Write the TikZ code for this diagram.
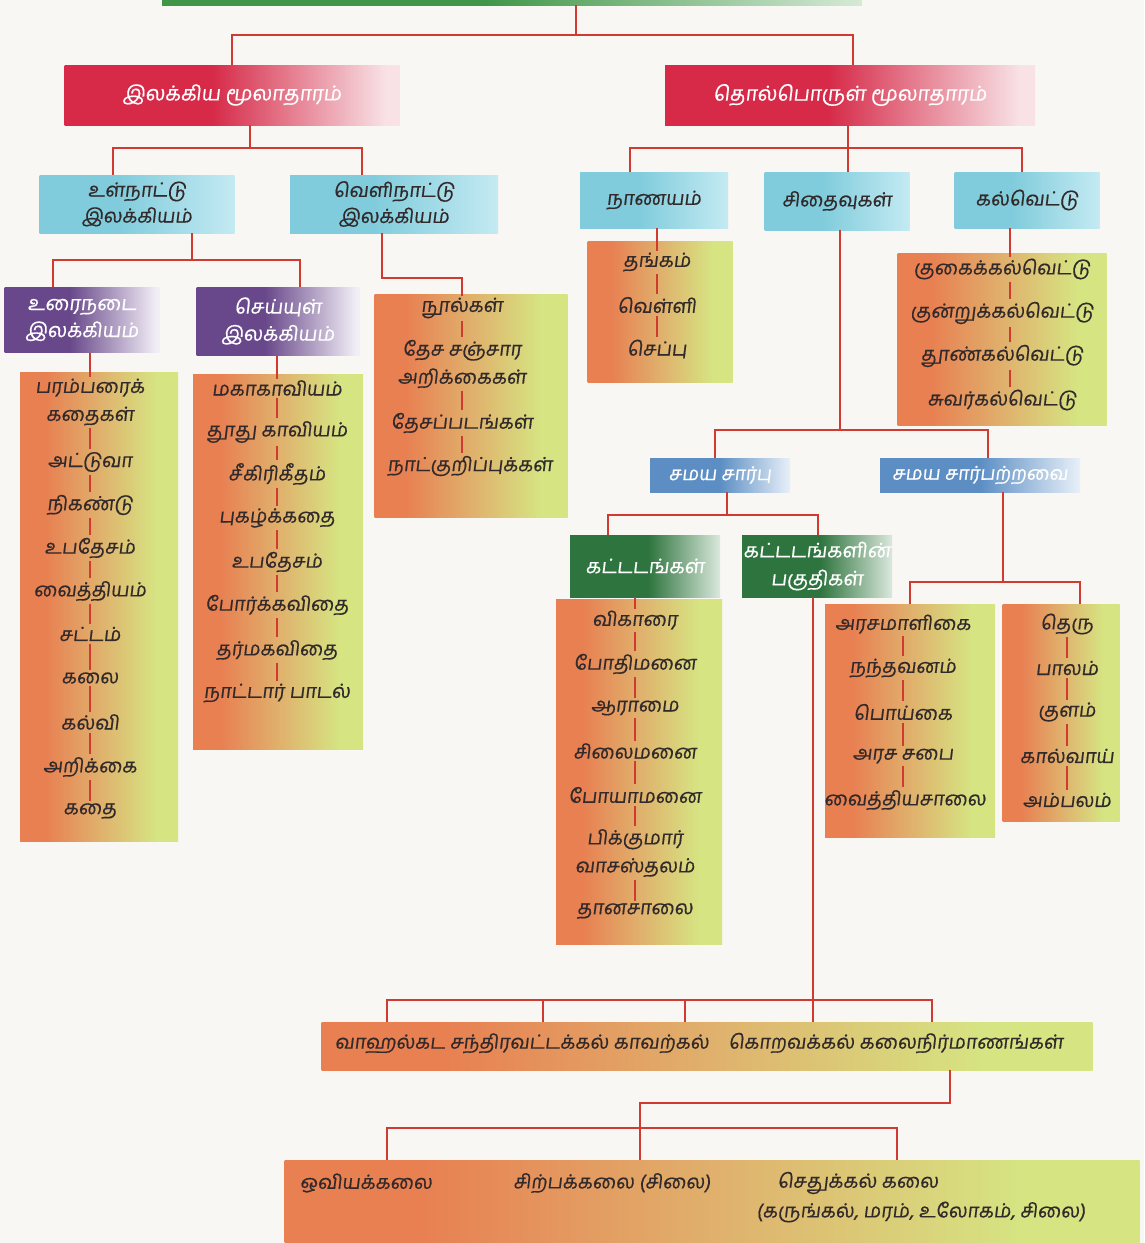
\documentclass[tikz,border=0pt]{standalone}
\usepackage{fontspec}
\newfontfamily\tam[Script=Tamil,FakeSlant=0.12,FakeBold=0.5]{Hind Madurai}
\usetikzlibrary{calc}
\definecolor{paper}{RGB}{248,247,243}
\definecolor{linkred}{RGB}{208,58,48}
\definecolor{lor}{RGB}{232,128,82}
\definecolor{lmid}{RGB}{224,176,108}
\definecolor{lyg}{RGB}{214,228,130}
\definecolor{hred}{RGB}{214,42,72}
\definecolor{hredf}{RGB}{248,226,230}
\definecolor{hcyan}{RGB}{128,204,220}
\definecolor{hcyanf}{RGB}{196,234,242}
\definecolor{hpurp}{RGB}{104,72,138}
\definecolor{hpurpf}{RGB}{242,238,246}
\definecolor{hgreen}{RGB}{46,116,62}
\definecolor{hgreenf}{RGB}{218,232,220}
\definecolor{hblue}{RGB}{92,142,196}
\definecolor{hbluef}{RGB}{232,240,248}
\definecolor{topgreen}{RGB}{64,150,72}
\definecolor{topgreenf}{RGB}{214,234,214}
\definecolor{txt}{RGB}{50,42,42}
\pgfdeclarehorizontalshading{fadered}{100bp}{color(0bp)=(hred); color(25bp)=(hred); color(47bp)=(hred); color(73bp)=(hredf); color(100bp)=(hredf)}
\pgfdeclarehorizontalshading{fadecyan}{100bp}{color(0bp)=(hcyan); color(25bp)=(hcyan); color(45bp)=(hcyan); color(75bp)=(hcyanf); color(100bp)=(hcyanf)}
\pgfdeclarehorizontalshading{fadepurp}{100bp}{color(0bp)=(hpurp); color(25bp)=(hpurp); color(46bp)=(hpurp); color(74bp)=(hpurpf); color(100bp)=(hpurpf)}
\pgfdeclarehorizontalshading{fadegreen}{100bp}{color(0bp)=(hgreen); color(25bp)=(hgreen); color(51bp)=(hgreen); color(75bp)=(hgreenf); color(100bp)=(hgreenf)}
\pgfdeclarehorizontalshading{fadeblue}{100bp}{color(0bp)=(hblue); color(25bp)=(hblue); color(50bp)=(hblue); color(75bp)=(hbluef); color(100bp)=(hbluef)}
\pgfdeclarehorizontalshading{fadetop}{100bp}{color(0bp)=(topgreen); color(25bp)=(topgreen); color(48bp)=(topgreen); color(75bp)=(topgreenf); color(100bp)=(topgreenf)}
\pgfdeclarehorizontalshading{listshade}{100bp}{color(0bp)=(lor); color(25bp)=(lor); color(33bp)=(lor); color(50bp)=(lmid); color(68bp)=(lyg); color(75bp)=(lyg); color(100bp)=(lyg)}
\tikzset{
  base/.style={draw=none, inner sep=0pt, align=center},
  hdrtop/.style={base, shade, shading=fadetop},
  hdrred/.style={base, shade, shading=fadered, text=white, font=\tam\fontsize{20.5}{25}\selectfont},
  hdrcyan/.style={base, shade, shading=fadecyan, text=txt, font=\tam\fontsize{19.5}{26}\selectfont},
  hdrpurp/.style={base, shade, shading=fadepurp, text=white, font=\tam\fontsize{20}{27}\selectfont},
  hdrgreen/.style={base, shade, shading=fadegreen, text=white, font=\tam\fontsize{20}{28}\selectfont},
  hdrblue/.style={base, shade, shading=fadeblue, text=white, font=\tam\fontsize{19}{22}\selectfont},
  listbox/.style={base, shade, shading=listshade},
  item/.style={inner sep=1.5pt, align=center, text=txt, font=\tam\fontsize{19.5}{28}\selectfont},
  small/.style={inner sep=1.5pt, align=center, text=txt, font=\tam\fontsize{19.5}{28}\selectfont},
  conn/.style={draw=linkred, line width=2pt},
  ilink/.style={draw=linkred, line width=2.2pt, shorten <=1pt, shorten >=1pt}
}
\begin{document}
\begin{tikzpicture}[x=1pt,y=-1pt]
\useasboundingbox (0,0) rectangle (1144,1243);
\fill[paper] (0,0) rectangle (1144,1243);

% ---------- header boxes ----------
\node[hdrtop, minimum width=700pt, minimum height=30pt] (top) at (512,-10) {};
\node[hdrred, minimum width=335pt, minimum height=60pt] (lit) at (232,95) {இலக்கிய மூலாதாரம்};
\node[hdrred, minimum width=370pt, minimum height=60pt] (arch) at (850,95) {தொல்பொருள் மூலாதாரம்};

\node[hdrcyan, minimum width=195pt, minimum height=58pt] (ulnadu) at (137,204) {உள்நாட்டு\\இலக்கியம்};
\node[hdrcyan, minimum width=208pt, minimum height=58pt] (velinadu) at (394,204) {வெளிநாட்டு\\இலக்கியம்};
\node[hdrpurp, minimum width=155pt, minimum height=65pt] (urai) at (82,320) {உரைநடை\\இலக்கியம்};
\node[hdrpurp, minimum width=163pt, minimum height=68pt] (seyyul) at (278,321) {செய்யுள்\\இலக்கியம்};

\node[hdrcyan, minimum width=148pt, minimum height=56pt] (nanayam) at (654,200) {நாணயம்};
\node[hdrcyan, minimum width=145pt, minimum height=58pt] (sithaivu) at (837,201) {சிதைவுகள்};
\node[hdrcyan, minimum width=145pt, minimum height=56pt] (kal) at (1027,200) {கல்வெட்டு};

\node[hdrblue, minimum width=140pt, minimum height=34pt] (samaya) at (720,475) {சமய சார்பு};
\node[hdrblue, minimum width=200pt, minimum height=34pt] (samayaA) at (980,475) {சமய சார்பற்றவை};
\node[hdrgreen, minimum width=150pt, minimum height=62pt] (kattadam) at (645,566) {கட்டடங்கள்};
\node[hdrgreen, minimum width=150pt, minimum height=62pt] (pakuthi) at (817,566) {கட்டடங்களின்\\பகுதிகள்};

% ---------- list boxes ----------
\node[listbox, minimum width=158pt, minimum height=469pt] (lbox) at (99,607) {};
\node[listbox, minimum width=170pt, minimum height=375pt] (mbox) at (278,562) {};
\node[listbox, minimum width=193pt, minimum height=223pt] (fbox) at (471,406) {};
\node[listbox, minimum width=145pt, minimum height=141pt] (nbox) at (660,312) {};
\node[listbox, minimum width=209pt, minimum height=172pt] (kbox) at (1002,339) {};
\node[listbox, minimum width=166pt, minimum height=345pt] (vbox) at (639,772) {};
\node[listbox, minimum width=170pt, minimum height=233pt] (pbox) at (910,721) {};
\node[listbox, minimum width=117pt, minimum height=217pt] (sbox) at (1061,713) {};
\node[listbox, minimum width=771pt, minimum height=48pt] (parts) at (707,1046) {};
\node[listbox, minimum width=855pt, minimum height=84pt] (lower) at (712,1202) {};

% ---------- list items ----------
\node[item] (l1) at (90,402) {பரம்பரைக்\\கதைகள்};
\node[item] (l2) at (90,462) {அட்டுவா};
\node[item] (l3) at (90,505) {நிகண்டு};
\node[item] (l4) at (90,548) {உபதேசம்};
\node[item] (l5) at (90,591) {வைத்தியம்};
\node[item] (l6) at (90,634) {சட்டம்};
\node[item] (l7) at (90,678) {கலை};
\node[item] (l8) at (90,722) {கல்வி};
\node[item] (l9) at (90,767) {அறிக்கை};
\node[item] (l10) at (90,811) {கதை};

\node[item] (m1) at (277,388) {மகாகாவியம்};
\node[item] (m2) at (277,432) {தூது காவியம்};
\node[item] (m3) at (277,474) {சீகிரிகீதம்};
\node[item] (m4) at (277,518) {புகழ்க்கதை};
\node[item] (m5) at (277,562) {உபதேசம்};
\node[item] (m6) at (277,605) {போர்க்கவிதை};
\node[item] (m7) at (277,650) {தர்மகவிதை};
\node[item] (m8) at (277,693) {நாட்டார் பாடல்};

\node[item] (f1) at (462,308) {நூல்கள்};
\node[item] (f2) at (462,364) {தேச சஞ்சார\\அறிக்கைகள்};
\node[item] (f3) at (462,423) {தேசப்படங்கள்};
\node[item] (f4) at (470,466) {நாட்குறிப்புக்கள்};

\node[item] (n1) at (657,262) {தங்கம்};
\node[item] (n2) at (657,305) {வெள்ளி};
\node[item] (n3) at (657,349) {செப்பு};

\node[item] (k1) at (1002,269) {குகைக்கல்வெட்டு};
\node[item] (k2) at (1002,313) {குன்றுக்கல்வெட்டு};
\node[item] (k3) at (1002,356) {தூண்கல்வெட்டு};
\node[item] (k4) at (1002,400) {சுவர்கல்வெட்டு};

\node[item] (v1) at (635,620) {விகாரை};
\node[item] (v2) at (635,664) {போதிமனை};
\node[item] (v3) at (635,708) {ஆராமை};
\node[item] (v4) at (635,751) {சிலைமனை};
\node[item] (v5) at (635,795) {போயாமனை};
\node[item] (v6) at (635,853) {பிக்குமார்\\வாசஸ்தலம்};
\node[item] (v7) at (635,911) {தானசாலை};

\node[item] (p1) at (903,624) {அரசமாளிகை};
\node[item] (p2) at (903,668) {நந்தவனம்};
\node[item] (p3) at (903,712) {பொய்கை};
\node[item] (p4) at (903,756) {அரச சபை};
\node[item] (p5) at (905,800) {வைத்தியசாலை};

\node[item] (s1) at (1067,624) {தெரு};
\node[item] (s2) at (1067,668) {பாலம்};
\node[item] (s3) at (1067,712) {குளம்};
\node[item] (s4) at (1067,756) {கால்வாய்};
\node[item] (s5) at (1067,800) {அம்பலம்};

\node[small] (w) at (699,1043) {வாஹல்கட சந்திரவட்டக்கல் காவற்கல்\quad கொறவக்கல் கலைநிர்மாணங்கள்};

\node[small] (o1) at (366,1183) {ஒவியக்கலை};
\node[small] (o2) at (612,1183) {சிற்பக்கலை (சிலை)};
\node[small] (o3) at (858,1183) {செதுக்கல் கலை};
\node[small] (o4) at (921,1212) {(கருங்கல், மரம், உலோகம், சிலை)};

% ---------- connectors ----------
\coordinate (b0) at (576,35);
\draw[conn] (top.south -| b0) -- (b0);
\draw[conn] (lit.north) |- (b0);
\draw[conn] ([xshift=3pt]arch.north) |- (b0);

\coordinate (b1) at (250,148);
\draw[conn] ([xshift=18pt]lit.south) -- (b1);
\draw[conn] ([xshift=-24pt]ulnadu.north) |- (b1);
\draw[conn] ([xshift=-32pt]velinadu.north) |- (b1);

\coordinate (b2) at (192,260);
\draw[conn] ([xshift=55pt]ulnadu.south) -- (b2);
\draw[conn] ([xshift=-29pt]urai.north) |- (b2);
\draw[conn] ([xshift=22pt]seyyul.north) |- (b2);

\coordinate (b3) at (462,278);
\draw[conn] ([xshift=-12pt]velinadu.south) |- (b3) -- (f1.north);
\draw[conn] ([xshift=8pt]urai.south) -- (l1.north);
\draw[conn] ([xshift=-1pt]seyyul.south) -- (m1.north);

\coordinate (b4) at (848,148);
\draw[conn] ([xshift=-2pt]arch.south) -- (b4);
\draw[conn] ([xshift=-24pt]nanayam.north) |- (b4);
\draw[conn] ([xshift=-5pt]kal.north) |- (b4);
\draw[conn] ([xshift=11pt]sithaivu.north) -- (b4);
\draw[conn] ([xshift=3pt]nanayam.south) -- (n1.north);
\draw[conn] ([xshift=-17pt]kal.south) -- ([xshift=8pt]k1.north);

\coordinate (b5) at (840,430);
\draw[conn] ([xshift=3pt]sithaivu.south) -- (b5);
\draw[conn] ([xshift=-5pt]samaya.north) |- (b5);
\draw[conn] ([xshift=8pt]samayaA.north) |- (b5);

\coordinate (b6) at (727,515);
\draw[conn] ([xshift=7pt]samaya.south) -- (b6);
\draw[conn] ([xshift=-37pt]kattadam.north) |- (b6);
\draw[conn] ([xshift=1pt]pakuthi.north) |- (b6);
\draw[conn] ([xshift=-10pt]kattadam.south) -- (v1.north);

\coordinate (b7) at (1003,582);
\draw[conn] ([xshift=23pt]samayaA.south) -- (b7);
\draw[conn] (pbox.north) |- (b7);
\draw[conn] ([xshift=19pt]sbox.north) |- (b7);

\coordinate (b8) at (813,1000);
\draw[conn] ([xshift=-4pt]pakuthi.south) -- (b8);
\foreach \dx in {-320,-164,-22,106,225}
  \draw[conn] ([xshift=\dx pt]parts.north) |- (b8);

\coordinate (b9) at (640,1103);
\coordinate (b10) at (640,1128);
\draw[conn] ([xshift=243pt]parts.south) |- (b9) -- ([xshift=-72pt]lower.north);
\draw[conn] ([xshift=-325pt]lower.north) |- (b10);
\draw[conn] ([xshift=185pt]lower.north) |- (b10);

% ---------- links inside the lists ----------
\foreach \a/\b in {l1/l2,l2/l3,l3/l4,l4/l5,l5/l6,l6/l7,l7/l8,l8/l9,l9/l10,
                   m1/m2,m2/m3,m3/m4,m4/m5,m5/m6,m6/m7,m7/m8,
                   f1/f2,f2/f3, n1/n2,n2/n3,
                   v1/v2,v2/v3,v3/v4,v4/v5,v5/v6,v6/v7,
                   p1/p2,p2/p3,p3/p4, s1/s2,s2/s3,s3/s4,s4/s5}
  \draw[ilink] (\a.south) -- (\b.north);
\draw[ilink] (f3.south) -- (f3.south |- f4.north);
\draw[ilink] (p4.south) -- (p4.south |- p5.north);
\foreach \a/\b in {k1/k2,k2/k3,k3/k4}
  \draw[ilink] ([xshift=8pt]\a.south) -- ([xshift=8pt]\b.north);
\end{tikzpicture}
\end{document}
